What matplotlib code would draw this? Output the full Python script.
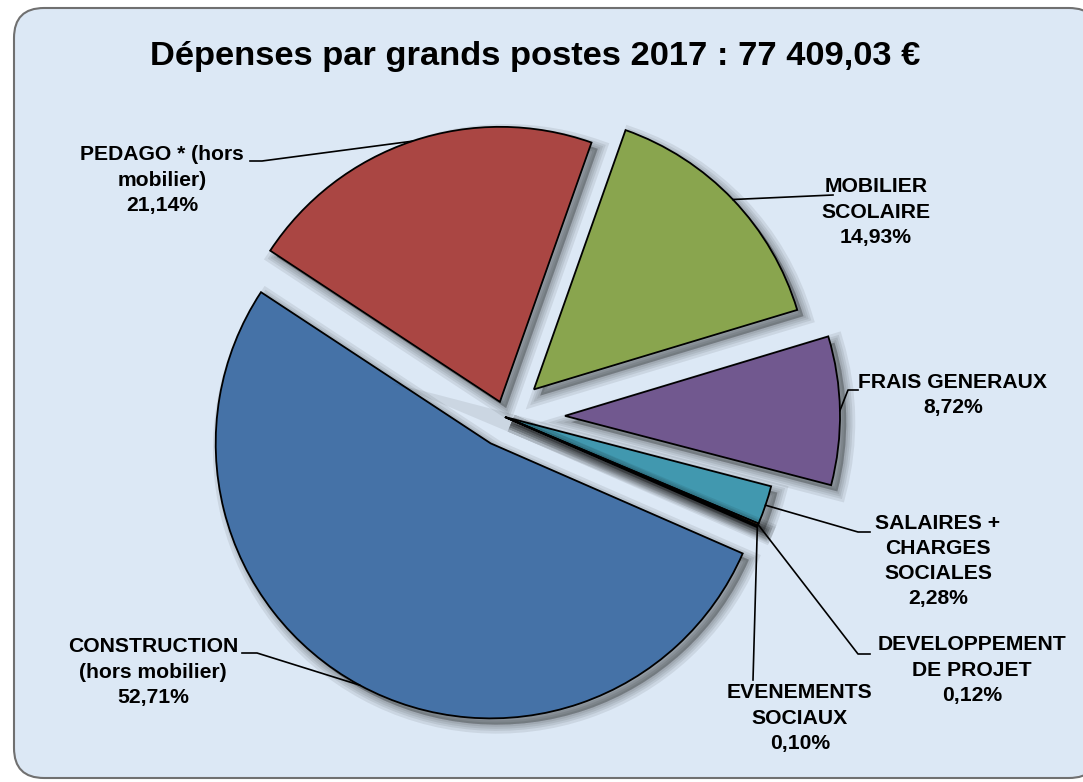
import matplotlib
matplotlib.use("Agg")
import matplotlib.pyplot as plt
from matplotlib import patheffects as pe
from matplotlib.patches import FancyBboxPatch
import numpy as np

plt.rcParams["font.family"] = ["Liberation Sans", "DejaVu Sans"]

TITLE = "Dépenses par grands postes 2017 : 77 409,03 €"
names = ["CONSTRUCTION\n(hors mobilier)", "PEDAGO * (hors\nmobilier)",
         "MOBILIER\nSCOLAIRE", "FRAIS GENERAUX", "SALAIRES +\nCHARGES\nSOCIALES",
         "DEVELOPPEMENT\nDE PROJET", "EVENEMENTS\nSOCIAUX"]
values = [52.71, 21.14, 14.93, 8.72, 2.28, 0.12, 0.10]
colors = ["#4572A7", "#AA4643", "#89A54E", "#71588F", "#4198AF", "#DB843D", "#93A9CF"]
# pie.explode is in data units here (pixels), not a fraction of the radius
explode = [30, 16, 40, 60, 0, 0, 0]

# layout, in pixels of the 1083x782 picture (y measured from the top)
W, H = 1083, 782
label_xy = [(153, 672), (162, 180), (876, 212), (953, 395), (938, 561), (972, 670), (800, 718)]
leader_from = [(242, 653), (250, 161), (833, 195), (858, 390), (870, 532), (870, 654), (753, 680)]
leader_elbow = [15, 12, 0, -10, -12, -12, 0]

fig = plt.figure(figsize=(W / 100, H / 100), dpi=100)
fig.patch.set_facecolor("white")
ax = fig.add_axes([0, 0, 1, 1])

bg = FancyBboxPatch((14, 4), 1085, 770, boxstyle="round,pad=0,rounding_size=30",
                    facecolor="#dce8f5", edgecolor="#707070", linewidth=1.5, zorder=0)
ax.add_patch(bg)

wedges, _ = ax.pie(values, explode=explode, startangle=-23.6, counterclock=False,
                   center=(505, H - 417), radius=275, colors=colors,
                   wedgeprops=dict(edgecolor="black", linewidth=1.3, zorder=2))

# soft drop shadow: a few stacked, widening strokes
shadow = [pe.SimplePatchShadow(offset=(4.5, -4.5), shadow_rgbFace="k", alpha=0.075,
                               linewidth=lw, foreground="k") for lw in (13, 9, 6, 3)]
for w in wedges:
    w.set_path_effects(shadow + [pe.Normal()])

for w, name, v, (tx, ty), (lx, ly), dx in zip(wedges, names, values, label_xy,
                                                leader_from, leader_elbow):
    mid = np.deg2rad((w.theta1 + w.theta2) / 2)
    ex = w.center[0] + w.r * np.cos(mid)
    ey = w.center[1] + w.r * np.sin(mid)
    ax.plot([lx, lx + dx, ex], [H - ly, H - ly, ey], color="black", lw=1.2, zorder=3)
    pct = f"{v:.2f}%".replace(".", ",")
    ax.text(tx, H - ty, f"{name}\n{pct}", ha="center", va="center", linespacing=1.42,
            multialignment="center", fontsize=15.2, fontweight="bold", zorder=4)

ax.text(535, H - 57, TITLE, ha="center", va="center", fontsize=24.8, fontweight="bold")

ax.set_xlim(0, W)
ax.set_ylim(0, H)
ax.set_aspect("auto")
ax.axis("off")

fig.savefig("out.png", dpi=100)
